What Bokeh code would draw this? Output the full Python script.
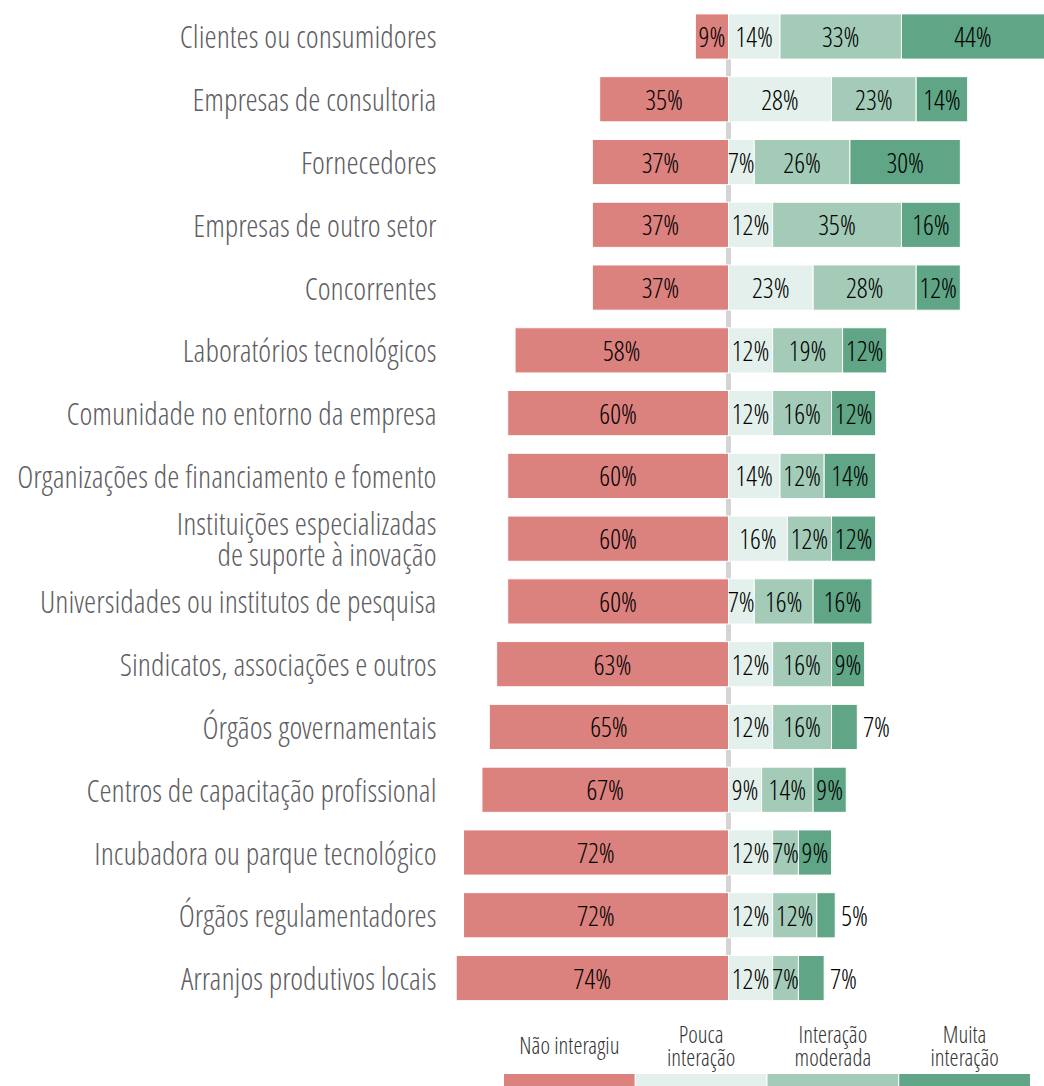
from bokeh.plotting import figure
from bokeh.models import ColumnDataSource, Range1d, FixedTicker
from bokeh.core.properties import value
from bokeh.embed import file_html
from bokeh.resources import INLINE

categories = [
    "Clientes ou consumidores",
    "Empresas de consultoria",
    "Fornecedores",
    "Empresas de outro setor",
    "Concorrentes",
    "Laboratórios tecnológicos",
    "Comunidade no entorno da empresa",
    "Organizações de financiamento e fomento",
    "Instituições especializadas\nde suporte à inovação",
    "Universidades ou institutos de pesquisa",
    "Sindicatos, associações e outros",
    "Órgãos governamentais",
    "Centros de capacitação profissional",
    "Incubadora ou parque tecnológico",
    "Órgãos regulamentadores",
    "Arranjos produtivos locais",
]
nao_interagiu = [9, 35, 37, 37, 37, 58, 60, 60, 60, 60, 63, 65, 67, 72, 72, 74]
pouca = [14, 28, 7, 12, 23, 12, 12, 14, 16, 7, 12, 12, 9, 12, 12, 12]
moderada = [33, 23, 26, 35, 28, 19, 16, 12, 12, 16, 16, 16, 14, 7, 12, 7]
muita = [44, 14, 30, 16, 12, 12, 12, 14, 12, 16, 9, 7, 9, 9, 5, 7]

legend_labels = ["Não interagiu", "Pouca\ninteração", "Interação\nmoderada", "Muita\ninteração"]
colors = ["#db817e", "#e3f0eb", "#a3cbb8", "#5fa586"]

FONT = "Open Sans Condensed Light"
X_MIN, X_MAX = -76.09, 85.87
n = len(categories)
ys = [n - 1 - i for i in range(n)]
Y_TOP = n - 1 + 0.5735
Y_BOT = -1.7278

p = figure(width=1044, height=1086,
           x_range=Range1d(X_MIN, X_MAX), y_range=Range1d(Y_BOT, Y_TOP),
           output_backend="svg", toolbar_location=None,
           x_axis_location=None, y_axis_location="left",
           min_border_left=448, min_border_right=0, min_border_top=0, min_border_bottom=0)
p.outline_line_color = None
p.xgrid.visible = False
p.ygrid.visible = False
p.background_fill_color = "white"
p.border_fill_color = "white"

ax = p.yaxis[0]
ax.ticker = FixedTicker(ticks=ys)
ax.major_label_overrides = {y: c for y, c in zip(ys, categories)}
ax.axis_line_color = None
ax.major_tick_line_color = None
ax.minor_tick_line_color = None
ax.major_label_standoff = 6
ax.major_label_text_font = FONT
ax.major_label_text_font_size = "31px"
ax.major_label_text_color = "#5e5e63"
ax.major_label_text_line_height = 0.73

BAR_H = 0.72
# center line
p.segment(x0=[0], y0=[-BAR_H / 2], x1=[0], y1=[n - 1 + BAR_H / 2],
          line_width=5, line_color="#d4d4d4")

series = [nao_interagiu, pouca, moderada, muita]
lefts, rights = [], []
lefts.append([-v for v in nao_interagiu])
rights.append([0] * n)
cum = [0] * n
for s in series[1:]:
    lefts.append(list(cum))
    cum = [c + v for c, v in zip(cum, s)]
    rights.append(list(cum))

for k in range(4):
    src = ColumnDataSource(dict(y=ys, left=lefts[k], right=rights[k]))
    p.hbar(y="y", left="left", right="right", height=BAR_H, source=src,
           fill_color=colors[k], line_color="white", line_width=1)

lx, ly, lt, la, lo = [], [], [], [], []
for k in range(4):
    for i in range(n):
        v = series[k][i]
        l, r = lefts[k][i], rights[k][i]
        if k == 3 and v < 8:
            lx.append(r); la.append("left"); lo.append(6)
        else:
            lx.append((max(l, X_MIN) + min(r, X_MAX)) / 2); la.append("center"); lo.append(0)
        ly.append(ys[i]); lt.append(f"{v}%")
lab = ColumnDataSource(dict(x=lx, y=ly, t=lt, a=la, o=lo))
p.text(x="x", y="y", text="t", text_align="a", x_offset="o", source=lab,
       text_baseline="middle", text_font=value(FONT), text_font_size="27px",
       text_color="#000000")

# legend (drawn in the plot's own coordinates, below the bars)
LEG_LEFT, LEG_W = -61.14, 35.80
LEG_BOT, LEG_TOP, LEG_TEXT_Y = Y_BOT, -1.5207, -1.0745
idx = list(range(4))
p.quad(left=[LEG_LEFT + i * LEG_W for i in idx], right=[LEG_LEFT + (i + 1) * LEG_W for i in idx],
       bottom=[LEG_BOT] * 4, top=[LEG_TOP] * 4,
       fill_color=colors, line_color="white", line_width=1)
p.text(x=[LEG_LEFT + (i + 0.5) * LEG_W for i in idx], y=[LEG_TEXT_Y] * 4, text=legend_labels,
       text_align="center", text_baseline="middle", text_font=value(FONT),
       text_font_size="23px", text_color="#333333", text_line_height=0.74)

open("out.html", "w").write(file_html(p, INLINE))
